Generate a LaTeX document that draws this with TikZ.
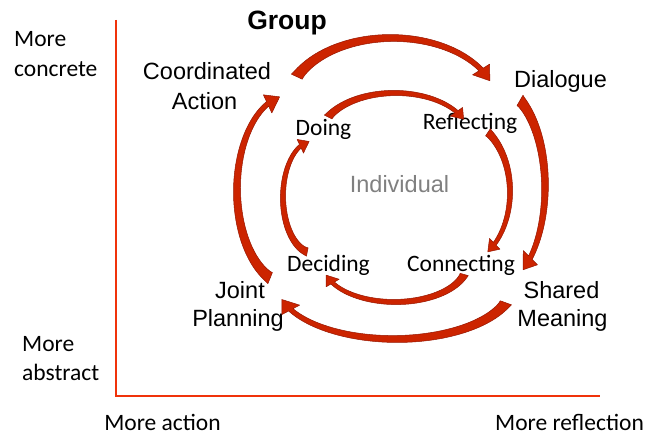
\documentclass[tikz,border=0pt]{standalone}
\usepackage{fontspec}
\setmainfont{Carlito}
\newfontfamily\arialfont{Liberation Sans}
\definecolor{axisred}{RGB}{240,50,10}
\definecolor{arrowred}{RGB}{204,36,0}
\definecolor{arrowdark}{RGB}{150,22,0}
\definecolor{labelgray}{RGB}{128,128,128}

% Curved block arrow along an ellipse centred at (#1,#2) with radii #3,#4,
% running from angle #5 (tail) to #6 (head base); the band narrows from
% width #7 to #8 and ends in a head of half-width #9 and length \headlen.
\newcommand\bandarrow[9]{%
  \pgfmathsetmacro\bandspd{sqrt((#3*sin(#6))^2+(#4*cos(#6))^2)}%
  \pgfmathsetmacro\banddel{\headlen/\bandspd*180/pi}%
  \filldraw[arrowshape] plot[domain=#5:#6,samples=60]
     ({#1+(#3+(#7+(#8-#7)*sqrt((\x-(#5))/((#6)-(#5))))/2)*cos(\x)},
      {#2+(#4+(#7+(#8-#7)*sqrt((\x-(#5))/((#6)-(#5))))/2)*sin(\x)})
   -- ({#1+(#3+#9)*cos(#6)},{#2+(#4+#9)*sin(#6)})
   -- ({#1+#3*cos(#6+\banddel)},{#2+#4*sin(#6+\banddel)})
   -- ({#1+(#3-#9)*cos(#6)},{#2+(#4-#9)*sin(#6)})
   -- plot[domain=#6:#5,samples=60]
     ({#1+(#3-(#7+(#8-#7)*sqrt((\x-(#5))/((#6)-(#5))))/2)*cos(\x)},
      {#2+(#4-(#7+(#8-#7)*sqrt((\x-(#5))/((#6)-(#5))))/2)*sin(\x)})
   -- cycle;
}

\tikzset{
  axisline/.style={draw=axisred, line width=1.8pt},
  arrowshape/.style={fill=arrowred, draw=arrowdark, line width=0.5pt, line join=round},
  lbl/.style={inner sep=0pt, anchor=base, font=\fontsize{23.5}{28}\selectfont},
  grouplbl/.style={lbl, font=\arialfont\fontsize{23.5}{28}\selectfont},
  title/.style={inner sep=0pt, anchor=base, font=\arialfont\bfseries\fontsize{26.5}{30}\selectfont},
  centrelbl/.style={grouplbl, text=labelgray},
}

\begin{document}
\begin{tikzpicture}[x=1pt, y=-1pt]
  \useasboundingbox[fill=white] (0,0) rectangle (648,436);

  % axes
  \coordinate (ytop) at (116,20);
  \coordinate (origin) at (116,396);
  \coordinate (xend) at (600,396);
  \draw[axisline] (ytop) -- (origin) -- (xend);

  % axis labels
  \node[lbl, anchor=base west] (concrete1) at (14,47) {More};
  \node[lbl, anchor=base west] (concrete2) at (14,77) {concrete};
  \node[lbl, anchor=base west] (abstract1) at (22,351) {More};
  \node[lbl, anchor=base west] (abstract2) at (22,380) {abstract};
  \node[lbl] (action) at (162.5,430) {More action};
  \node[lbl] (reflection) at (569.5,430) {More reflection};

  % group cycle labels
  \node[title] (group) at (287,30) {Group};
  \node[grouplbl] (coord1) at (207,80) {Coordinated};
  \node[grouplbl] (coord2) at (204.5,109) {Action};
  \node[grouplbl] (dialogue) at (560.5,88) {Dialogue};
  \node[grouplbl] (joint1) at (240,298) {Joint};
  \node[grouplbl] (joint2) at (238,326) {Planning};
  \node[grouplbl] (shared1) at (561.5,298) {Shared};
  \node[grouplbl] (shared2) at (562.5,326) {Meaning};

  % individual cycle labels
  \node[centrelbl] (individual) at (399.5,192) {Individual};
  \node[lbl] (doing) at (323.5,135) {Doing};
  \node[lbl] (reflecting) at (470,129) {Reflecting};
  \node[lbl] (deciding) at (328.5,271) {Deciding};
  \node[lbl] (connecting) at (461,271) {Connecting};

  % outer (group) arrows
  \def\headlen{15}
  \bandarrow{392}{105}{105}{67}{-155}{-32}{12}{5}{10}
  \bandarrow{495}{187}{50}{100}{-60}{45}{12}{5}{10}
  \bandarrow{395}{284}{118}{55}{20}{152}{12}{5}{10}
  \bandarrow{290}{190}{53}{95}{112}{245}{12}{5}{10}

  % inner (individual) arrows
  \def\headlen{11}
  \bandarrow{395}{137}{75}{44}{-153}{-35}{8.5}{4}{7.5}
  \bandarrow{460}{192}{50}{72}{-56}{46}{8.5}{4}{7.5}
  \bandarrow{395}{264}{72}{38}{16}{150}{8.5}{4}{7.5}
  \bandarrow{313}{197}{30}{56}{101}{245}{8.5}{4}{7.5}
\end{tikzpicture}
\end{document}
